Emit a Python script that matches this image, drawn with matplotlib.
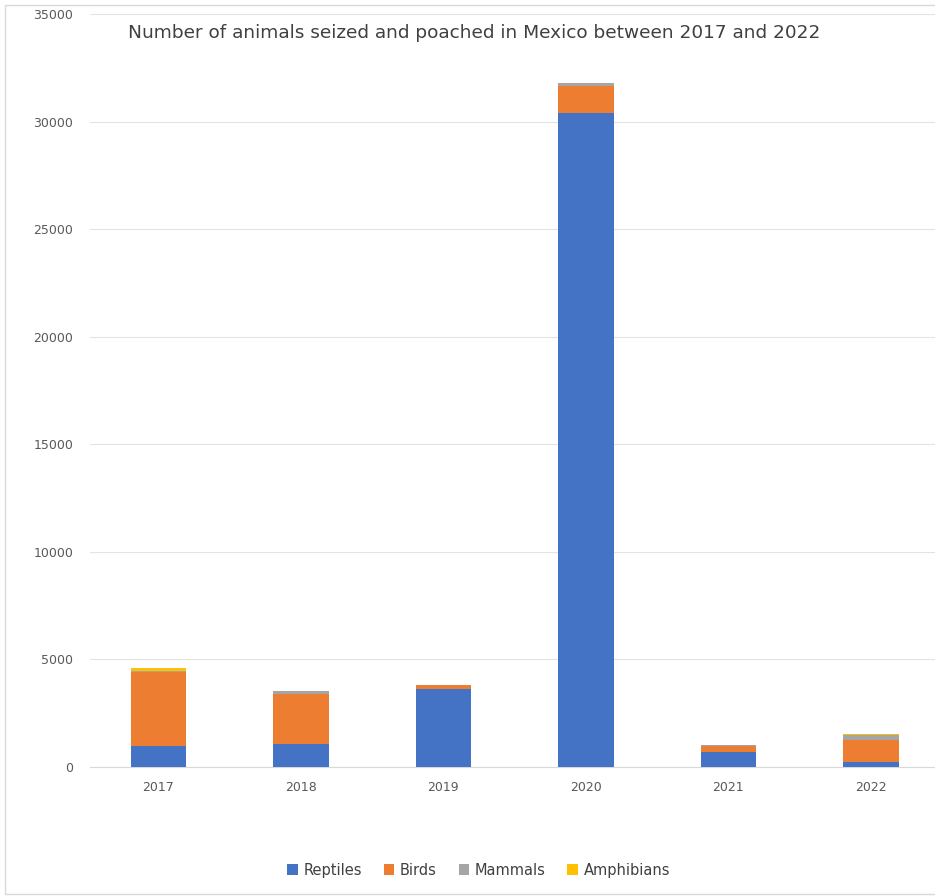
import matplotlib.pyplot as plt
import numpy as np
from matplotlib.patches import Rectangle

years = ['2017', '2018', '2019', '2020', '2021', '2022']
reptiles = [980, 1070, 3620, 30400, 710, 250]
birds = [3420, 2320, 180, 1270, 280, 1010]
mammals = [60, 120, 20, 120, 10, 250]
amphibians = [150, 30, 5, 10, 0, 20]

series = [('Reptiles', reptiles, '#4472C4'), ('Birds', birds, '#ED7D31'),
          ('Mammals', mammals, '#A5A5A5'), ('Amphibians', amphibians, '#FFC000')]

fig = plt.figure(figsize=(9.35, 8.96), dpi=100)
ax = fig.add_axes([90/935, 1 - 767/896, 845/935, 753/896])
x = np.arange(len(years))
bottom = np.zeros(len(years))
for name, vals, col in series:
    ax.bar(x, vals, bottom=bottom, width=0.39, color=col, label=name, zorder=3)
    bottom += np.array(vals)

ax.set_ylim(0, 35000)
ax.set_xlim(-0.48, 5.45)
ax.set_yticks(range(0, 35001, 5000))
ax.set_xticks(x, years)
ax.grid(axis='y', color='#E3E3E3', linewidth=0.8, zorder=0)
for s in ['top', 'right', 'left']:
    ax.spines[s].set_visible(False)
ax.spines['bottom'].set_color('#D9D9D9')
ax.tick_params(length=0, colors='#595959', labelsize=9)
ax.tick_params(axis='y', pad=12)
ax.tick_params(axis='x', pad=10)

fig.text(0.507, 1 - 33/896, 'Number of animals seized and poached in Mexico between 2017 and 2022',
         ha='center', va='center', fontsize=13.3, color='#404040')
fig.legend(loc='center', bbox_to_anchor=(0.512, 1 - 870/896), ncol=4, frameon=False,
           fontsize=10.5, handlelength=0.7, handleheight=0.7, columnspacing=1.5,
           handletextpad=0.4, labelcolor='#404040')
fig.patches.append(Rectangle((5/935, 0.002), 1, 1 - 5/896 - 0.002, transform=fig.transFigure,
                             fill=False, edgecolor='#D9D9D9', linewidth=1))
fig.savefig('out.png')
